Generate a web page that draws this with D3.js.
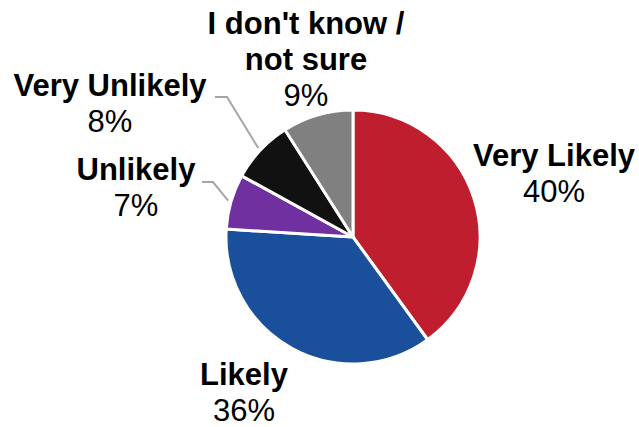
<!DOCTYPE html>
<html>
<head>
<meta charset="utf-8">
<script src="https://cdn.jsdelivr.net/npm/d3@7"></script>
<style>
  html, body { margin: 0; padding: 0; background: #fff; }
  svg { display: block; }
  text { font-family: "Liberation Sans", Arial, sans-serif; fill: #000; }
</style>
</head>
<body>
<svg id="chart" width="639" height="427"></svg>
<script>
// Survey responses, clockwise from 12 o'clock
const categories = ["Very Likely", "Likely", "Unlikely", "Very Unlikely", "I don't know / not sure"];
const values = [40, 36, 7, 8, 9];
const colors = ["#be1e2d", "#1a4f9c", "#7030a0", "#111111", "#808080"];

// Label lines as drawn (category names may wrap)
const labelLines = [["Very Likely"], ["Likely"], ["Unlikely"], ["Very Unlikely"], ["I don't know /", "not sure"]];

// Label placement: text centre x, first baseline y, and optional leader elbow/end
const labelLayout = [
  { x: 554, y: 166 },
  { x: 244, y: 385 },
  { x: 136, y: 180, elbow: [213, 182], end: [202, 182] },
  { x: 110, y: 96,  elbow: [227, 97],  end: [215, 97] },
  { x: 306, y: 34 }
];

const svg = d3.select("#chart");
const cx = 353, cy = 237, radius = 127;
const lineH = 36;
const fontSize = 31;

const data = categories.map((c, i) => ({ name: c, value: values[i], color: colors[i], lines: labelLines[i], layout: labelLayout[i] }));

const pie = d3.pie().value(d => d.value).sort(null);
const arc = d3.arc().innerRadius(0).outerRadius(radius);
const arcs = pie(data);

const g = svg.append("g").attr("transform", `translate(${cx},${cy})`);

g.selectAll("path.slice")
  .data(arcs)
  .join("path")
  .attr("class", "slice")
  .attr("d", arc)
  .attr("fill", d => d.data.color)
  .attr("stroke", "#fff")
  .attr("stroke-width", 3)
  .attr("stroke-linejoin", "round");

// Leader lines from the slice edge to the label
svg.selectAll("polyline.leader")
  .data(arcs.filter(d => d.data.layout.elbow))
  .join("polyline")
  .attr("class", "leader")
  .attr("fill", "none")
  .attr("stroke", "#a6a6a6")
  .attr("stroke-width", 2)
  .attr("points", d => {
    const a = (d.startAngle + d.endAngle) / 2;
    const r = radius + 3;
    const p = [cx + r * Math.sin(a), cy - r * Math.cos(a)];
    const L = d.data.layout;
    return [p, L.elbow, L.end].map(q => q.join(",")).join(" ");
  });

// Labels: bold name lines then regular percentage
const labels = svg.selectAll("g.label")
  .data(arcs)
  .join("g")
  .attr("class", "label");

labels.each(function(d) {
  const sel = d3.select(this);
  const L = d.data.layout;
  d.data.lines.forEach((t, k) => {
    sel.append("text")
      .attr("x", L.x)
      .attr("y", L.y + k * lineH)
      .attr("text-anchor", "middle")
      .attr("font-size", fontSize)
      .attr("font-weight", "bold")
      .text(t);
  });
  sel.append("text")
    .attr("x", L.x)
    .attr("y", L.y + d.data.lines.length * lineH)
    .attr("text-anchor", "middle")
    .attr("font-size", fontSize)
    .text(d.data.value + "%");
});
</script>
</body>
</html>
